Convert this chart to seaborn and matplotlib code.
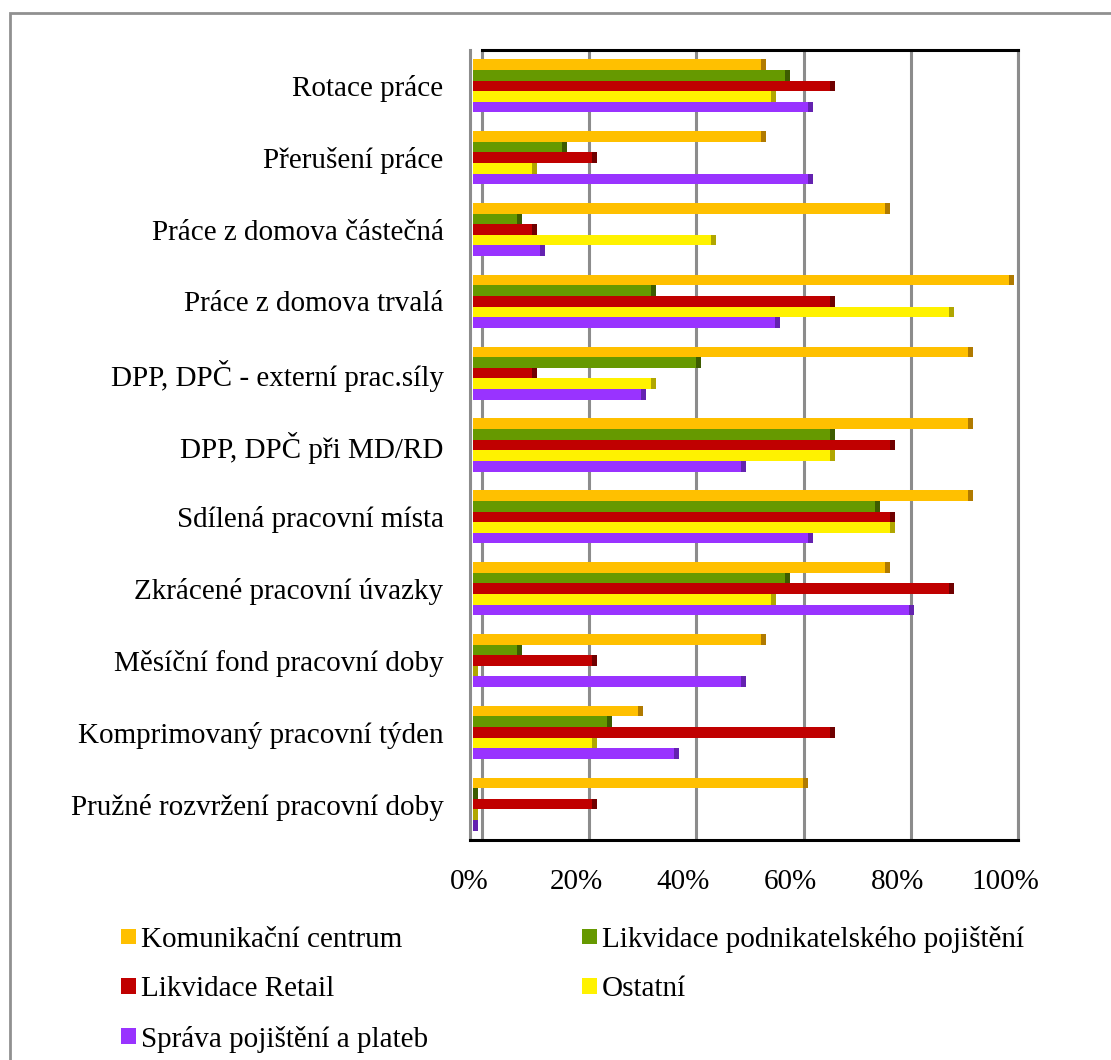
import numpy as np
import pandas as pd
import seaborn as sns
import matplotlib.pyplot as plt
import matplotlib.transforms as mtransforms
from matplotlib.patches import Rectangle, Patch

# data (percent), categories top -> bottom
categories = ["Rotace práce", "Přerušení práce", "Práce z domova částečná",
              "Práce z domova trvalá", "DPP, DPČ - externí prac.síly",
              "DPP, DPČ při MD/RD", "Sdílená pracovní místa",
              "Zkrácené pracovní úvazky", "Měsíční fond pracovní doby",
              "Komprimovaný pracovní týden", "Pružné rozvržení pracovní doby"]
series = ["Komunikační centrum", "Likvidace podnikatelského pojištění",
          "Likvidace Retail", "Ostatní", "Správa pojištění a plateb"]
komunikacni = [53.8, 53.8, 76.9, 100.0, 92.3, 92.3, 92.3, 76.9, 53.8, 30.8, 61.5]
likv_podnik = [58.3, 16.7, 8.3, 33.3, 41.7, 66.7, 75.0, 58.3, 8.3, 25.0, 0.0]
likv_retail = [66.7, 22.2, 11.1, 66.7, 11.1, 77.8, 77.8, 88.9, 22.2, 66.7, 22.2]
ostatni = [55.6, 11.1, 44.4, 88.9, 33.3, 66.7, 77.8, 55.6, 0.0, 22.2, 0.0]
sprava = [62.5, 62.5, 12.5, 56.3, 31.3, 50.0, 62.5, 81.3, 50.0, 37.5, 0.0]
xticks = [0, 20, 40, 60, 80, 100]
xticklabels = ["0%", "20%", "40%", "60%", "80%", "100%"]

colors = ["#FFC000", "#669900", "#C00000", "#FFF200", "#9933FF"]
caps = ["#B07A00", "#3D5C00", "#700000", "#B0A600", "#6422B0"]

values = [komunikacni, likv_podnik, likv_retail, ostatni, sprava]
rows = []
for s, vals in zip(series, values):
    for c, v in zip(categories, vals):
        rows.append({"cat": c, "series": s, "val": v})
df = pd.DataFrame(rows)

sns.set_style("white")
plt.rcParams["font.family"] = ["Liberation Serif", "DejaVu Serif"]
plt.rcParams["text.color"] = "black"
plt.rcParams["xtick.color"] = "black"
plt.rcParams["ytick.color"] = "black"

FS = 21
W, H = 1111, 1060
fig = plt.figure(figsize=(W / 100, H / 100), dpi=100)
ax = fig.add_axes([470 / W, 1 - 840 / H, (1018 - 470) / W, (840 - 50) / H])

sns.barplot(data=df, y="cat", x="val", hue="series", order=categories,
            hue_order=series, palette=colors, saturation=1, orient="h", width=0.74,
            legend=False, ax=ax, zorder=3, edgecolor="none")

# fake 3D: shift front face left, add darker side cap at the end
depth, capw = 1.7, 0.95
for i, s in enumerate(series):
    cont = ax.containers[i]
    for p in cont.patches:
        v = p.get_width()
        p.set_x(p.get_x() - depth)
        ax.add_patch(Rectangle((p.get_x() + v, p.get_y()), capw, p.get_height(),
                               facecolor=caps[i], edgecolor="none", zorder=4))

ax.set_xlim(-2.24, 100)
ax.set_ylim(len(categories) - 0.5, -0.5)
ax.set_xticks(xticks)
ax.set_xticklabels(xticklabels, fontsize=FS)
ax.tick_params(axis="y", labelsize=FS, length=0, pad=19, colors="black")
ax.tick_params(axis="x", length=0, pad=21, colors="black")
ax.set_xlabel("")
ax.set_ylabel("")

for x in xticks:
    ax.axvline(x, color="#8c8c8c", lw=2.2, zorder=1)

offset = mtransforms.ScaledTranslation(-13 / 100, 0, fig.dpi_scale_trans)
for lab in ax.get_xticklabels():
    lab.set_transform(lab.get_transform() + offset)

for side in ["left", "right"]:
    ax.spines[side].set_color("#8c8c8c")
    ax.spines[side].set_linewidth(2.2)
ax.spines["top"].set_color("black")
ax.spines["top"].set_linewidth(2.2)
ax.spines["top"].set_bounds(0, 100)
ax.spines["bottom"].set_color("black")
ax.spines["bottom"].set_linewidth(2.2)

# legend, row-wise order like the original
handles = [Patch(facecolor=c, edgecolor="none") for c in colors]
order = [0, 2, 4, 1, 3]
fig.legend([handles[k] for k in order], [series[k] for k in order],
           loc="upper left", bbox_to_anchor=(121 / W, 1 - 926 / H), ncol=2,
           frameon=False, fontsize=FS, handlelength=0.52, handleheight=0.45,
           handletextpad=0.15, labelspacing=0.8, columnspacing=5.3,
           borderpad=0, borderaxespad=0)

# outer chart border
fig.patches.append(Rectangle((10 / W, -0.1), 2, 1.1 - 13 / H, transform=fig.transFigure,
                             fill=False, edgecolor="#909090", lw=2))

fig.savefig("out.png", dpi=100)
